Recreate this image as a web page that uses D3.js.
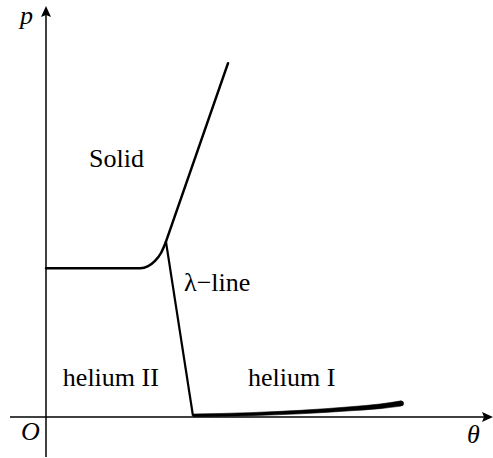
<!DOCTYPE html>
<html>
<head>
<meta charset="UTF-8">
<title>Helium phase diagram</title>
<script src="https://cdn.jsdelivr.net/npm/d3@7"></script>
<style>
  body { margin: 0; background: #fff; }
</style>
</head>
<body>
<svg id="chart" width="493" height="458"></svg>
<script>
// solid / liquid boundary (theta, p): rounded knee, then straight
const kneeTheta = [0, 2.12, 2.30, 2.45, 2.59, 2.70];
const kneeP     = [3.63, 3.63, 3.68, 3.80, 4.00, 4.27];
const meltTheta = [2.70, 4.10];
const meltP     = [4.27, 8.63];

// lambda line
const lambdaTheta = [2.70, 3.31];
const lambdaP     = [4.29, 0.03];

// vapour curve of helium I, drawn thicker to the right
const vapTheta = [3.31, 4.59, 5.72, 6.85, 7.52, 8.00];
const vapP     = [0.04, 0.07, 0.12, 0.20, 0.26, 0.33];
const vapWidth = [2.6, 3.0, 3.5, 4.0, 4.6, 5.2];

const regionLabels = ["Solid", "\u03bb\u2212line", "helium II", "helium I"];
const regionTheta  = [0.97, 3.11, 0.38, 4.55];
const regionP      = [6.10, 3.07, 0.76, 0.76];

const letters = ["p", "O", "\u03b8"];
const letterX = [20, 21, 467];
const letterY = [24, 440, 443];

const svg = d3.select("#chart");

const x = d3.scaleLinear().domain([0, 10]).range([46, 490]);
const y = d3.scaleLinear().domain([0, 10]).range([417, 7]);

// axes
svg.append("line")
    .attr("x1", 10).attr("y1", y(0))
    .attr("x2", 484).attr("y2", y(0))
    .attr("stroke", "#000").attr("stroke-width", 1.5);
svg.append("line")
    .attr("x1", x(0)).attr("y1", 457)
    .attr("x2", x(0)).attr("y2", 14)
    .attr("stroke", "#000").attr("stroke-width", 1.5);

// arrow heads
svg.append("path")
    .attr("d", "M" + 493 + "," + y(0) + " l-11,-5 l2,5 l-2,5 Z")
    .attr("fill", "#000");
svg.append("path")
    .attr("d", "M" + x(0) + "," + 6 + " l-5,11 l5,-2 l5,2 Z")
    .attr("fill", "#000");

const pairs = (ts, ps) => ts.map((t, i) => [t, ps[i]]);

svg.append("path")
    .datum(pairs(kneeTheta, kneeP))
    .attr("fill", "none").attr("stroke", "#000").attr("stroke-width", 2.5)
    .attr("stroke-linecap", "round")
    .attr("d", d3.line().x(d => x(d[0])).y(d => y(d[1])).curve(d3.curveMonotoneX));

svg.append("path")
    .datum(pairs(meltTheta, meltP))
    .attr("fill", "none").attr("stroke", "#000").attr("stroke-width", 2.5)
    .attr("stroke-linecap", "round")
    .attr("d", d3.line().x(d => x(d[0])).y(d => y(d[1])));

svg.append("path")
    .datum(pairs(lambdaTheta, lambdaP))
    .attr("fill", "none").attr("stroke", "#000").attr("stroke-width", 2.2)
    .attr("d", d3.line().x(d => x(d[0])).y(d => y(d[1])));

// tapered curve as a filled band
const vap = vapTheta.map((t, i) => ({ t: t, p: vapP[i], w: vapWidth[i] }));
const band = d3.area()
    .x(d => x(d.t))
    .y0(d => y(d.p) + d.w / 2)
    .y1(d => y(d.p) - d.w / 2)
    .curve(d3.curveMonotoneX);
svg.append("path")
    .datum(vap)
    .attr("fill", "#000")
    .attr("stroke", "#000").attr("stroke-width", 0.6).attr("stroke-linejoin", "round")
    .attr("d", band);
svg.append("circle")
    .attr("cx", x(vap[vap.length - 1].t)).attr("cy", y(vap[vap.length - 1].p))
    .attr("r", vapWidth[vapWidth.length - 1] / 2);

// labels, each text with its own serif family
svg.selectAll("text.region")
    .data(regionLabels)
    .enter().append("text")
    .attr("x", (d, i) => x(regionTheta[i]))
    .attr("y", (d, i) => y(regionP[i]))
    .style("font-family", "'Times New Roman'")
    .attr("font-size", 26)
    .text(d => d);

svg.selectAll("text.letter")
    .data(letters)
    .enter().append("text")
    .attr("x", (d, i) => letterX[i])
    .attr("y", (d, i) => letterY[i])
    .style("font-family", "'Times New Roman'")
    .attr("font-size", 26)
    .attr("font-style", "italic")
    .text(d => d);
</script>
</body>
</html>
